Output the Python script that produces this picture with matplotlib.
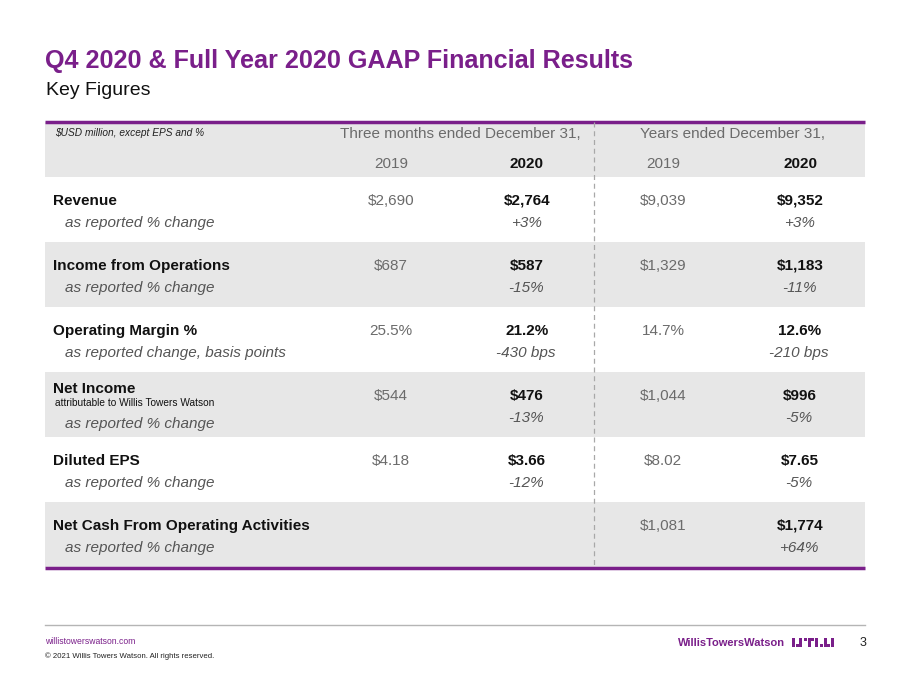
import matplotlib.pyplot as plt
from matplotlib.patches import Rectangle

plt.rcParams['font.family'] = ['Liberation Sans', 'DejaVu Sans']
plt.rcParams['text.parse_math'] = False

PURPLE = '#7a1f8a'
BAND = '#e7e7e7'
GREY_TXT = '#6b6b6b'

# table content
row_labels = ['Revenue', 'Income from Operations', 'Operating Margin %',
              'Net Income', 'Diluted EPS', 'Net Cash From Operating Activities']
row_notes = ['', '', '', 'attributable to Willis Towers Watson', '', '']
row_sub = ['as reported % change', 'as reported % change',
           'as reported change, basis points', 'as reported % change',
           'as reported % change', 'as reported % change']
q4_2019 = ['$2,690', '$687', '25.5%', '$544', '$4.18', '']
q4_2020 = ['$2,764', '$587', '21.2%', '$476', '$3.66', '']
q4_change = ['+3%', '-15%', '-430 bps', '-13%', '-12%', '']
fy_2019 = ['$9,039', '$1,329', '14.7%', '$1,044', '$8.02', '$1,081']
fy_2020 = ['$9,352', '$1,183', '12.6%', '$996', '$7.65', '$1,774']
fy_change = ['+3%', '-11%', '-210 bps', '-5%', '-5%', '+64%']
col_years = ['2019', '2020', '2019', '2020']
group_titles = ['Three months ended December 31,', 'Years ended December 31,']

fig = plt.figure(figsize=(9.11, 6.83), dpi=100)
ax = fig.add_axes([0, 0, 1, 1])
ax.set_xlim(0, 911)
ax.set_ylim(683, 0)
ax.axis('off')

# title
ax.text(45, 68, 'Q4 2020 & Full Year 2020 GAAP Financial Results', fontsize=18.1,
        fontweight='bold', color=PURPLE, va='baseline')
ax.text(46, 95, 'Key Figures', fontsize=14, color='#111111', va='baseline')

left, right = 45, 865
head_top, head_bot = 122, 177
row_h = 65
col_x = [391, 527, 663, 800]
div_x = 594
FS = 11
B = 4.6  # center -> baseline offset for 11pt text

# header band
ax.add_patch(Rectangle((left, head_top), right - left, head_bot - head_top,
                       color=BAND, lw=0, zorder=0))
ax.text(55, 136, '$USD million, except EPS and %', fontsize=7.3, style='italic',
        color='#222222', va='baseline')
ax.text(460, 133 + B, group_titles[0], fontsize=FS, color=GREY_TXT,
        va='baseline', ha='center')
ax.text(733, 133 + B, group_titles[1], fontsize=FS, color=GREY_TXT,
        va='baseline', ha='center')
for i, yr in enumerate(col_years):
    bold = i % 2 == 1
    ax.text(col_x[i], 163 + B, yr, fontsize=FS, ha='center', va='baseline',
            fontweight='bold' if bold else 'normal',
            color='#111111' if bold else GREY_TXT)

# rows
for r in range(len(row_labels)):
    top = head_bot + r * row_h
    if r % 2 == 1:
        ax.add_patch(Rectangle((left, top), right - left, row_h,
                               color=BAND, lw=0, zorder=0))
    if row_notes[r]:
        ly, vy, sy = top + 16, top + 23, top + 51
        ax.text(55, top + 32 + 2.5, row_notes[r], fontsize=7.3, color='#111111',
                va='baseline')
    else:
        ly, vy, sy = top + 23, top + 23, top + 45
    ax.text(53, ly + B, row_labels[r], fontsize=FS, fontweight='bold',
            color='#111111', va='baseline')
    ax.text(65, sy + B, row_sub[r], fontsize=FS, style='italic', color='#555555',
            va='baseline')
    vals = [q4_2019[r], q4_2020[r], fy_2019[r], fy_2020[r]]
    for i, v in enumerate(vals):
        bold = i % 2 == 1
        ax.text(col_x[i], vy + B, v, fontsize=FS, ha='center', va='baseline',
                fontweight='bold' if bold else 'normal',
                color='#111111' if bold else GREY_TXT)
    for i, v in zip([1, 3], [q4_change[r], fy_change[r]]):
        ax.text(col_x[i] - 1, vy + 22 + B, v, fontsize=FS, ha='center', va='baseline',
                style='italic', color='#555555')

table_bot = head_bot + len(row_labels) * row_h + 1
ax.plot([left, right], [head_top, head_top], color=PURPLE, lw=2.5, solid_capstyle='butt')
ax.plot([left, right], [table_bot, table_bot], color=PURPLE, lw=2.5, solid_capstyle='butt')
ax.plot([div_x, div_x], [head_top, table_bot], color='#a8a8a8', lw=0.9,
        linestyle=(0, (4, 3)))

# footer
ax.plot([left, right], [625, 625], color='#b5b5b5', lw=1)
ax.text(45, 642, 'willistowerswatson.com', fontsize=6.2, color=PURPLE, va='center')
ax.text(45, 656, '\u00a9 2021 Willis Towers Watson. All rights reserved.', fontsize=5.6,
        color='#222222', va='center')
ax.text(678, 643, 'WillisTowersWatson', fontsize=8, fontweight='bold', color=PURPLE,
        va='center')
# logo mark: (x, width, y_top, height)
mark = [(792, 3, 638, 9), (795.5, 3, 644, 3), (799, 3, 638, 9),
        (804, 3, 638, 3), (807.5, 3, 638, 9), (811, 3, 638, 3),
        (814.5, 3, 638, 9), (820, 3, 644, 3), (823.5, 3, 638, 9),
        (827, 3, 644, 3), (830.5, 3, 638, 9)]
for bx, bw, by, bh in mark:
    ax.add_patch(Rectangle((bx, by), bw, bh, color=PURPLE, lw=0))
ax.text(860, 643, '3', fontsize=9, color='#222222', va='center')

fig.savefig('out.png', dpi=100)
